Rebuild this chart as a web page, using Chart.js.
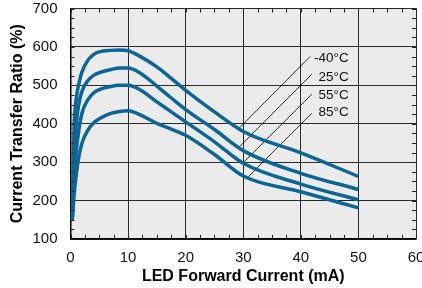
<!DOCTYPE html>
<html>
<head>
<meta charset="utf-8">
<script src="https://cdn.jsdelivr.net/npm/chart.js@4"></script>
<style>
  body { margin: 0; background: #fff; }
  canvas { display: block; }
</style>
</head>
<body>
<canvas id="ctrChart" width="422" height="288"></canvas>
<script>
// данные
const ledCurrent = [0.3, 0.6, 1, 1.5, 2, 3, 4, 5, 7, 8.5, 10, 12, 15, 17.5, 20, 25, 30, 40, 50];
const ctrMinus40 = [150, 380, 465, 508, 535, 565, 580, 587, 591, 592, 590, 576, 548, 518, 487, 431, 380, 324, 263];
const ctr25      = [150, 300, 400, 455, 485, 512, 526, 533, 541, 545, 545, 533, 498, 467, 437, 385, 330, 271, 229];
const ctr55      = [150, 250, 330, 388, 428, 462, 480, 489, 497, 500, 500, 489, 457, 431, 405, 353, 297, 243, 202];
const ctr85      = [150, 210, 268, 318, 350, 383, 402, 413, 427, 432, 434, 424, 401, 386, 370, 320, 264, 223, 181];

const tempLabels = ['-40°C', '25°C', '55°C', '85°C'];
// выноски: начало у подписи, конец на кривой
const leaderTop    = [[41.6, 575], [41.9, 529], [41.9, 477], [41.9, 427]];
const leaderBottom = [[29.0, 384], [29.2, 338], [29.95, 298], [30.6, 258]];
const labelX = 48.3;
const labelY = [570, 522, 475, 430];

const xTicks = [0, 10, 20, 30, 40, 50, 60];
const yTicks = [100, 200, 300, 400, 500, 600, 700];

const BLUE = '#0b6597';

function toPoints(ys) {
    return ledCurrent.map((x, i) => ({ x: x, y: ys[i] }));
}

const curveSets = [ctrMinus40, ctr25, ctr55, ctr85].map((ys, i) => ({
    label: tempLabels[i],
    data: toPoints(ys),
    borderColor: BLUE,
    borderWidth: 3.5,
    pointRadius: 0,
    cubicInterpolationMode: 'monotone',
    order: 1
}));

const leaderSets = leaderTop.map((p, i) => ({
    label: 'leader' + i,
    data: [{ x: p[0], y: p[1] }, { x: leaderBottom[i][0], y: leaderBottom[i][1] }],
    borderColor: '#000',
    borderWidth: 0.8,
    pointRadius: 0,
    order: 2
}));

// фон области графика
const plotBg = {
    id: 'plotBg',
    beforeDraw(chart) {
        const { ctx, chartArea: a } = chart;
        ctx.save();
        ctx.fillStyle = '#ebebeb';
        ctx.fillRect(a.left, a.top, a.right - a.left, a.bottom - a.top);
        ctx.restore();
    }
};

// мелкие засечки внутрь по всем сторонам + подписи температур
const extras = {
    id: 'extras',
    afterDraw(chart) {
        const { ctx, chartArea: a, scales } = chart;
        const xs = scales.x, ys = scales.y;
        ctx.save();
        ctx.strokeStyle = '#222';
        ctx.lineWidth = 1;
        ctx.beginPath();
        for (let v = 100; v <= 700; v += 25) {
            const py = Math.round(ys.getPixelForValue(v)) + 0.5;
            ctx.moveTo(a.left, py); ctx.lineTo(a.left + 4, py);
            ctx.moveTo(a.right - 4, py); ctx.lineTo(a.right, py);
        }
        for (let v = 0; v <= 60; v += 2.5) {
            const px = Math.round(xs.getPixelForValue(v)) + 0.5;
            ctx.moveTo(px, a.bottom); ctx.lineTo(px, a.bottom - 4);
            ctx.moveTo(px, a.top); ctx.lineTo(px, a.top + 4);
        }
        ctx.stroke();

        ctx.fillStyle = '#111';
        ctx.font = '13.5px "Liberation Sans", Arial, sans-serif';
        ctx.textAlign = 'right';
        ctx.textBaseline = 'middle';
        tempLabels.forEach((t, i) => {
            ctx.fillText(t, xs.getPixelForValue(labelX), ys.getPixelForValue(labelY[i]));
        });
        ctx.restore();
    }
};

new Chart(document.getElementById('ctrChart'), {
    type: 'line',
    data: { datasets: curveSets.concat(leaderSets) },
    options: {
        responsive: false,
        animation: false,
        layout: { padding: { top: 8.5, right: 6, left: 0, bottom: 0 } },
        plugins: { legend: { display: false }, tooltip: { enabled: false } },
        scales: {
            x: {
                type: 'linear',
                min: 0, max: 60,
                afterBuildTicks: s => { s.ticks = xTicks.map(v => ({ value: v })); },
                afterFit: s => { s.height = 49; s.paddingLeft = 0; s.paddingRight = 0; },
                ticks: {
                    color: '#111',
                    padding: 10,
                    maxRotation: 0,
                    font: { family: '"Liberation Sans", Arial, sans-serif', size: 15 }
                },
                grid: { color: '#2a2a2a', lineWidth: 1, drawTicks: false },
                border: { color: '#000', width: 1.5 },
                title: {
                    display: true,
                    text: 'LED Forward Current (mA)',
                    color: '#000',
                    padding: { top: 0, bottom: 1.6 },
                    font: { family: '"Liberation Sans", Arial, sans-serif', size: 16, weight: 'bold' }
                }
            },
            y: {
                type: 'linear',
                min: 100, max: 700,
                afterBuildTicks: s => { s.ticks = yTicks.map(v => ({ value: v })); },
                afterFit: s => { s.width = 70.5; s.paddingTop = 0; s.paddingBottom = 0; },
                ticks: {
                    color: '#111',
                    padding: 13,
                    font: { family: '"Liberation Sans", Arial, sans-serif', size: 15 }
                },
                grid: { color: '#2a2a2a', lineWidth: 1, drawTicks: false },
                border: { color: '#000', width: 1.5 },
                title: {
                    display: true,
                    text: 'Current Transfer Ratio (%)',
                    color: '#000',
                    padding: { top: 7.5, bottom: 0 },
                    font: { family: '"Liberation Sans", Arial, sans-serif', size: 16, weight: 'bold' }
                }
            }
        }
    },
    plugins: [plotBg, extras]
});
</script>
</body>
</html>
